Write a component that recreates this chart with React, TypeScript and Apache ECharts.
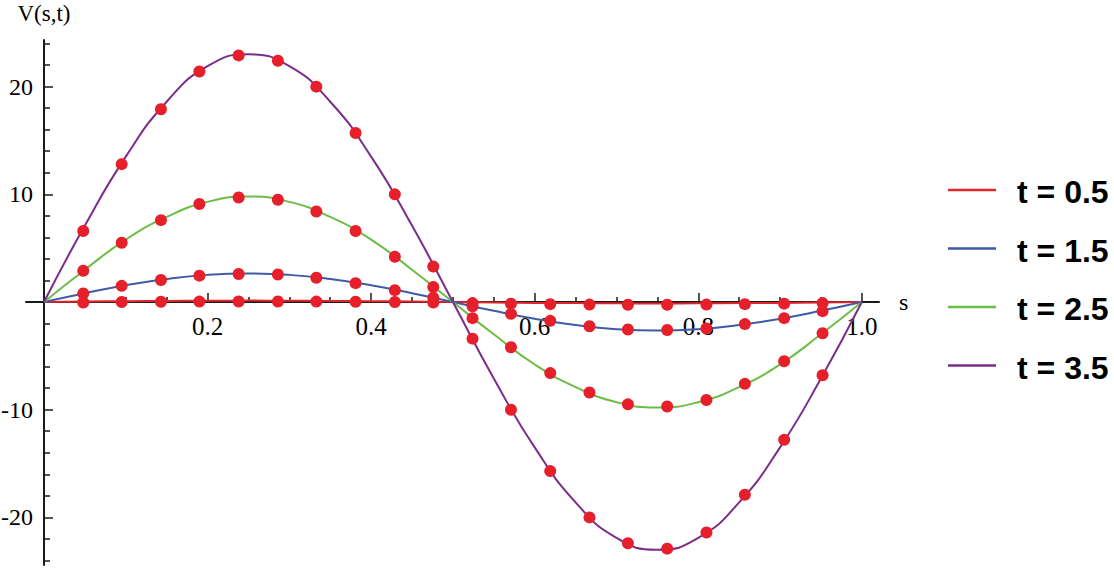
import React, { useEffect, useRef } from "react";
import * as echarts from "echarts";

// legend labels
const tLabels = ["t = 0.5", "t = 1.5", "t = 2.5", "t = 3.5"];
const lineColors = ["#e0252b", "#3e5ba8", "#6cbd45", "#7a2d8a"];
const dotColor = "#e5202b";

// s positions of the smooth curves
const sLine = [0, 0.05, 0.1, 0.15, 0.2, 0.25, 0.3, 0.35, 0.4, 0.45, 0.5, 0.55, 0.6, 0.65, 0.7, 0.75, 0.8, 0.85, 0.9, 0.95, 1.0];
// curve values
const curveT05 = [0, 0.04, 0.08, 0.1, 0.12, 0.13, 0.12, 0.1, 0.08, 0.04, 0, -0.04, -0.08, -0.1, -0.12, -0.13, -0.12, -0.1, -0.08, -0.04, 0];
const curveT15 = [0, 0.82, 1.56, 2.14, 2.52, 2.65, 2.52, 2.14, 1.56, 0.82, 0, -0.82, -1.56, -2.14, -2.52, -2.65, -2.52, -2.14, -1.56, -0.82, 0];
const curveT25 = [0, 3.0, 5.8, 7.9, 9.3, 9.8, 9.3, 7.9, 5.8, 3.0, 0, -3.0, -5.8, -7.9, -9.3, -9.8, -9.3, -7.9, -5.8, -3.0, 0];
const curveT35 = [0, 7.1, 13.5, 18.6, 21.9, 23.0, 21.9, 18.6, 13.5, 7.1, 0, -7.1, -13.5, -18.6, -21.9, -23.0, -21.9, -18.6, -13.5, -7.1, 0];

// s positions of the red dots
const sDots = [0.048, 0.095, 0.143, 0.19, 0.238, 0.286, 0.333, 0.381, 0.429, 0.476, 0.524, 0.571, 0.619, 0.667, 0.714, 0.762, 0.81, 0.857, 0.905, 0.952];
// dot values
const dotsT05 = [-0.05, 0.0, 0.02, 0.04, 0.05, 0.05, 0.04, 0.02, 0.0, -0.05, -0.1, -0.15, -0.2, -0.24, -0.25, -0.25, -0.24, -0.2, -0.15, -0.1];
const dotsT15 = [0.8, 1.5, 2.05, 2.45, 2.6, 2.55, 2.25, 1.75, 1.1, 0.4, -0.4, -1.1, -1.75, -2.25, -2.55, -2.6, -2.45, -2.05, -1.5, -0.85];
const dotsT25 = [2.9, 5.5, 7.6, 9.1, 9.7, 9.5, 8.4, 6.6, 4.2, 1.4, -1.5, -4.2, -6.6, -8.4, -9.5, -9.7, -9.1, -7.6, -5.5, -2.9];
const dotsT35 = [6.6, 12.8, 17.9, 21.4, 22.9, 22.4, 20.0, 15.7, 10.0, 3.3, -3.4, -10.0, -15.7, -20.0, -22.4, -22.9, -21.4, -17.9, -12.8, -6.8];

// ticks
const xMajorTicks = [0.2, 0.4, 0.6, 0.8, 1.0];
const xMinorTicks = [0.05, 0.1, 0.15, 0.25, 0.3, 0.35, 0.45, 0.5, 0.55, 0.65, 0.7, 0.75, 0.85, 0.9, 0.95];
const yMajorTicks = [-20, -10, 10, 20];
const yMinorTicks = [-24, -22, -18, -16, -14, -12, -8, -6, -4, -2, 2, 4, 6, 8, 12, 14, 16, 18, 22, 24];

const serif = "'Liberation Serif', 'Times New Roman', 'DejaVu Serif', serif";
const sans = "'Liberation Sans', Arial, 'DejaVu Sans', sans-serif";
const axisColor = "#1a1a1a";

export default function App() {
  const ref = useRef<HTMLDivElement>(null);

  useEffect(() => {
    if (!ref.current) return;
    const chart = echarts.init(ref.current, null, { renderer: "svg" });

    const curves = [curveT05, curveT15, curveT25, curveT35];
    const dots = [dotsT05, dotsT15, dotsT25, dotsT35];

    const lineSeries = curves.map((vals, i) => ({
      name: tLabels[i],
      type: "line",
      xAxisIndex: 0,
      yAxisIndex: 0,
      data: sLine.map((s, j) => [s, vals[j]]),
      smooth: true,
      symbol: "none",
      lineStyle: { color: lineColors[i], width: 2 },
      z: 3,
    }));
    const dotSeries = dots.map((vals, i) => ({
      name: tLabels[i] + " points",
      type: "scatter",
      xAxisIndex: 0,
      yAxisIndex: 0,
      data: sDots.map((s, j) => [s, vals[j]]),
      symbol: "circle",
      symbolSize: 12,
      itemStyle: { color: dotColor, opacity: 1 },
      z: 4,
    }));

    const legendTop = 190;
    const legendGap = 58.5;
    const legendGraphics: any[] = [];
    tLabels.forEach((lbl, i) => {
      const y = legendTop + i * legendGap;
      legendGraphics.push({
        type: "line",
        shape: { x1: 948, y1: y, x2: 996, y2: y },
        style: { stroke: lineColors[i], lineWidth: 2.5 },
      });
      legendGraphics.push({
        type: "text",
        x: 1017,
        y: y + 2,
        style: {
          text: lbl,
          font: `bold 32px ${sans}`,
          fill: "#000",
          verticalAlign: "middle",
        },
      });
    });

    const xMin = -0.022;
    const xMax = 1.021;
    const yMin = -24.42;
    const yMax = 24.33;
    const gLeft = 26;
    const gTop = 40;
    const gWidth = 853;
    const gHeight = 525;
    // axes cross at zero: shift them from the grid edge to the zero position
    const xAxisOffset = -gHeight * (0 - yMin) / (yMax - yMin);
    const yAxisOffset = -gWidth * (0 - xMin) / (xMax - xMin);

    chart.setOption({
      animation: false,
      grid: { left: gLeft, top: gTop, width: gWidth, height: gHeight, containLabel: false, outerBoundsMode: "none" },
      xAxis: [
        {
          type: "value",
          position: "bottom",
          offset: xAxisOffset,
          min: xMin,
          max: xMax,
          name: "s",
          nameLocation: "end",
          nameGap: 20,
          nameTextStyle: { fontFamily: serif, fontSize: 24, color: "#000", verticalAlign: "middle", padding: [8, 0, 0, 0] },
          axisLine: { show: true, onZero: false, lineStyle: { color: axisColor, width: 2 } },
          axisTick: { show: true, inside: true, length: 9, customValues: xMajorTicks, lineStyle: { color: axisColor, width: 1.5 } },
          axisLabel: {
            show: true,
            customValues: xMajorTicks,
            formatter: (v: number) => v.toFixed(1),
            fontFamily: serif,
            fontSize: 25,
            color: "#000",
            margin: 12,
          },
          splitLine: { show: false },
        },
        {
          type: "value",
          position: "bottom",
          offset: xAxisOffset,
          min: xMin,
          max: xMax,
          axisLine: { show: false, onZero: false },
          axisTick: { show: true, inside: true, length: 5, customValues: xMinorTicks, lineStyle: { color: axisColor, width: 1.5 } },
          axisLabel: { show: false },
          splitLine: { show: false },
        },
      ],
      yAxis: [
        {
          type: "value",
          position: "left",
          offset: yAxisOffset,
          min: yMin,
          max: yMax,
          name: "V(s,t)",
          nameLocation: "end",
          nameGap: 15,
          nameTextStyle: { fontFamily: serif, fontSize: 23, color: "#000", align: "center" },
          axisLine: { show: true, onZero: false, lineStyle: { color: axisColor, width: 2 } },
          axisTick: { show: true, inside: true, length: 9, customValues: yMajorTicks, lineStyle: { color: axisColor, width: 1.5 } },
          axisLabel: {
            show: true,
            customValues: yMajorTicks,
            fontFamily: serif,
            fontSize: 24,
            color: "#000",
            margin: 11,
          },
          splitLine: { show: false },
        },
        {
          type: "value",
          position: "left",
          offset: yAxisOffset,
          min: yMin,
          max: yMax,
          axisLine: { show: false, onZero: false },
          axisTick: { show: true, inside: true, length: 6, customValues: yMinorTicks, lineStyle: { color: axisColor, width: 1.5 } },
          axisLabel: { show: false },
          splitLine: { show: false },
        },
      ],
      graphic: legendGraphics,
      series: [...lineSeries, ...dotSeries],
    });

    return () => chart.dispose();
  }, []);

  return (
    <div
      ref={ref}
      style={{ position: "fixed", left: 0, top: 0, width: 1114, height: 569, background: "#fff" }}
    />
  );
}
